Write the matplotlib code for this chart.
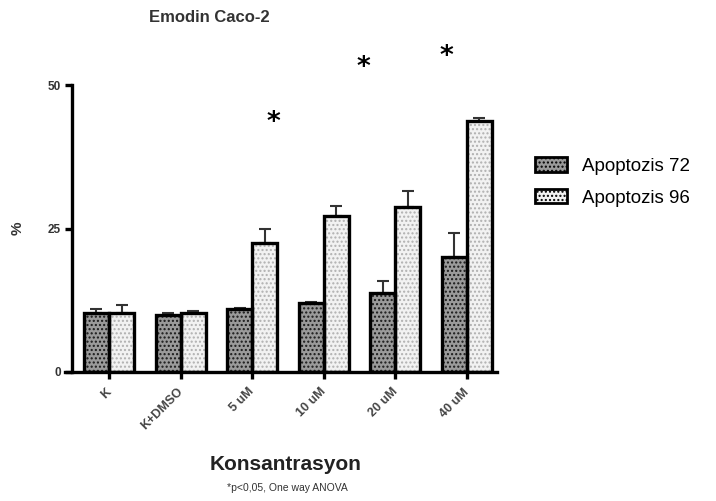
import numpy as np
import matplotlib.pyplot as plt
import matplotlib.transforms as mtransforms
from matplotlib.patches import Patch

plt.rcParams['font.family'] = ['Liberation Sans', 'DejaVu Sans']

categories = ["K", "K+DMSO", "5 uM", "10 uM", "20 uM", "40 uM"]
apop72 = [10.2, 9.9, 11.0, 12.1, 13.7, 20.0]
apop72_err = [0.8, 0.3, 0.2, 0.1, 2.2, 4.2]
apop96 = [10.2, 10.3, 22.4, 27.1, 28.8, 43.8]
apop96_err = [1.4, 0.3, 2.6, 1.9, 2.7, 0.4]
star_x = [2.29, 3.56, 4.71]
star_y = [43.4, 53.0, 54.9]

fig = plt.figure(figsize=(7.16, 5.01), dpi=100)
ax = fig.add_axes([65/716, 1 - 372/501, 432/716, 287/501])

x = np.arange(len(categories))
w = 0.35
dark = ('#9a9a9a', '....', '#1a1a1a')
light = ('#f2f2f2', '....', '#b0b0b0')

def bars(pos, vals, style):
    face, hatch, hcol = style
    ax.bar(pos, vals, w, color=face, hatch=hatch, edgecolor=hcol, linewidth=0, zorder=2)
    ax.bar(pos, vals, w, fill=False, edgecolor='black', linewidth=2.4, zorder=3)

bars(x - w/2, apop72, dark)
bars(x + w/2, apop96, light)

ax.errorbar(x - w/2, apop72, yerr=[np.zeros(len(x)), apop72_err], fmt='none',
            ecolor='#333333', elinewidth=1.5, capsize=4, capthick=1.5, zorder=1)
ax.errorbar(x + w/2, apop96, yerr=[np.zeros(len(x)), apop96_err], fmt='none',
            ecolor='#333333', elinewidth=1.5, capsize=4, capthick=1.5, zorder=1)

for sx, sy in zip(star_x, star_y):
    ax.text(sx, sy, '*', fontsize=19, fontweight='bold', ha='center', va='center',
            family='DejaVu Sans', clip_on=False)

ax.set_xlim(-0.615, 5.42)
ax.set_ylim(0, 50)
ax.spines['top'].set_visible(False)
ax.spines['right'].set_visible(False)
ax.spines['left'].set_position(('data', -0.517))
ax.spines['left'].set_linewidth(2.4)
ax.spines['bottom'].set_linewidth(2.4)

ax.set_yticks([0, 25, 50])
ax.set_yticklabels(['0', '25', '50'], fontsize=8.5, fontweight='bold', color='#333333')
ax.set_xticks(x)
ax.set_xticklabels(categories, rotation=45, ha='right', rotation_mode='anchor',
                   fontsize=9, fontweight='bold', color='#444444')
ax.tick_params(axis='both', width=2.4, length=5, direction='out')
ax.tick_params(axis='y', pad=3)
ax.tick_params(axis='x', pad=5)
shift = mtransforms.ScaledTranslation(-4/100, 0, fig.dpi_scale_trans)
for lbl in ax.get_xticklabels():
    lbl.set_transform(lbl.get_transform() + shift)

fig.text(18/716, 1 - 228/501, '%', rotation=90, fontsize=11, fontweight='bold',
         color='#333333', ha='center', va='center')
fig.text(209/716, 1 - 17/501, 'Emodin Caco-2', fontsize=12, fontweight='bold',
         color='#333333', ha='center', va='center')
fig.text(286/716, 1 - 465/501, 'Konsantrasyon', fontsize=15, fontweight='bold',
         color='#222222', ha='center', va='center')
fig.text(287/716, 1 - 488/501, '*p<0,05, One way ANOVA', fontsize=7.5,
         color='#333333', ha='center', va='center')

handles = [Patch(facecolor=dark[0], hatch=dark[1], edgecolor='black', linewidth=2),
           Patch(facecolor=light[0], hatch=light[1], edgecolor='black', linewidth=2)]
fig.legend(handles, ['Apoptozis 72', 'Apoptozis 96'], loc='center left',
           bbox_to_anchor=(518/716, 1 - 182/501), frameon=False,
           handlelength=1.7, handleheight=0.8, labelspacing=0.75, handletextpad=0.8,
           prop={'size': 13.5})

fig.savefig('out.png', dpi=100)
